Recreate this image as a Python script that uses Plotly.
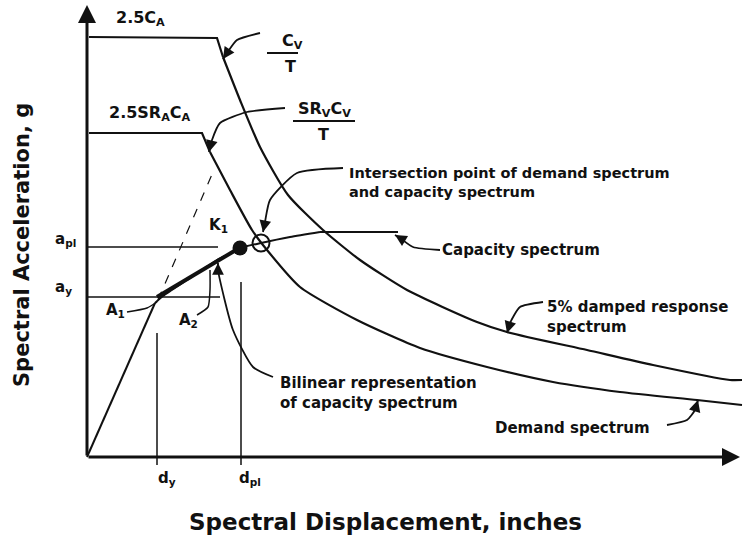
import plotly.graph_objects as go

# Diagram units: origin at the axes corner, 1 unit ~ 1 px of the figure
# 5% damped elastic response spectrum (Sa vs Sd)
resp_x = [2, 130, 136, 153, 173, 201, 236, 273, 320, 390, 420, 500, 566, 643, 655]
resp_y = [420, 419, 400, 357, 310, 262, 227, 197, 167, 135, 125, 107, 92, 77, 77]

# reduced demand spectrum
dem_x = [2, 115, 123, 143, 165, 180, 213, 270, 333, 400, 466, 533, 610, 655]
dem_y = [324, 324, 305, 267, 227, 207, 170, 137, 109, 90, 75, 65, 57, 52]

# capacity spectrum (pushover curve)
cap_x = [0, 68, 76, 100, 130, 146, 153, 174, 203, 233, 311]
cap_y = [0, 154, 161, 177, 197, 205, 209, 214, 220, 225, 225]

# bilinear representation points
d_y, a_y = 70, 160
d_pl, a_pl = 154, 210
k1_x = [71, 126]
k1_y = [157, 285]

# performance point (intersection)
pp_x, pp_y = 174, 214

font = "DejaVu Sans, Liberation Sans, sans-serif"
ink = "#111111"

fig = go.Figure()


def line(x, y, width=2, dash=None, shape="linear"):
    fig.add_trace(go.Scatter(x=x, y=y, mode="lines", hoverinfo="skip",
                             line=dict(color=ink, width=width, dash=dash, shape=shape,
                                       smoothing=0.6)))


def head(tip, tail, width=1.8, size=1.3):
    fig.add_annotation(x=tip[0], y=tip[1], ax=tail[0], ay=tail[1],
                       xref="x", yref="y", axref="x", ayref="y", text="",
                       showarrow=True, arrowhead=2, arrowsize=size, arrowwidth=width,
                       arrowcolor=ink)


# reference lines
line([0, 133], [a_y, a_y], 1.5)
line([0, 131], [a_pl, a_pl], 1.5)
line([d_y, d_y], [124, -8], 1.5)
line([d_pl, d_pl], [175, -8], 1.5)
line(k1_x, k1_y, 1.2, dash="dash")

# spectra: straight plateau and knee, smooth descending branch
line(resp_x[:3], resp_y[:3], 2.2)
line(resp_x[2:], resp_y[2:], 2.2, shape="spline")
line(dem_x[:3], dem_y[:3], 2.2)
line(dem_x[2:], dem_y[2:], 2.2, shape="spline")
line(cap_x[:2], cap_y[:2], 2)
line(cap_x[1:10], cap_y[1:10], 2, shape="spline")
line(cap_x[9:], cap_y[9:], 2)
line([d_y, d_pl], [a_y, a_pl], 4)

# points
fig.add_trace(go.Scatter(x=[d_pl - 1], y=[a_pl - 1], mode="markers", hoverinfo="skip",
                         marker=dict(size=15, color=ink)))
fig.add_trace(go.Scatter(x=[pp_x], y=[pp_y], mode="markers", hoverinfo="skip",
                         marker=dict(size=17, color="rgba(0,0,0,0)",
                                     line=dict(color=ink, width=2))))

# fraction bars
line([180, 211], [404, 404], 2)
line([206, 268], [336, 336], 2)

# curved leader arrows: shaft points, arrow tip
leaders = [
    ([173, 150, 140], [424, 417, 404], (136, 398)),
    ([198, 160, 133, 125], [349, 345, 334, 317], (122, 305)),
    ([256, 210, 183, 178], [289, 284, 257, 235], (176, 225)),
    ([353, 326, 313], [207, 210, 219], (308, 222)),
    ([456, 433, 423], [155, 150, 134], (420, 124)),
    ([580, 600, 608], [32, 37, 47], (611, 57)),
    ([186, 166, 146, 131], [80, 90, 127, 187], (131, 194)),
]
for xs, ys, tip in leaders:
    line(xs + [tip[0]], ys + [tip[1]], 1.8, shape="spline")
    head(tip, (xs[-1], ys[-1]))

# A1 / A2 leaders (no heads)
line([40, 60, 70], [145, 149, 155], 1.5, shape="spline")
line([110, 121, 123, 123], [142, 150, 167, 187], 1.5, shape="spline")

# axes with arrows
head((0, 452), (0, 0), width=3, size=1.2)
head((653, 0), (0, 0), width=3, size=1.2)

labels = [
    (53, 439, "2.5C<sub>A</sub>", "center", 16),
    (205, 416, "C<sub>V</sub>", "center", 16),
    (203, 391, "T", "center", 16),
    (63, 344, "2.5SR<sub>A</sub>C<sub>A</sub>", "center", 16),
    (237, 348, "SR<sub>V</sub>C<sub>V</sub>", "center", 16),
    (236, 323, "T", "center", 16),
    (131, 232, "K<sub>1</sub>", "center", 15),
    (-22, 218, "a<sub>pl</sub>", "center", 15),
    (-24, 170, "a<sub>y</sub>", "center", 15),
    (28, 147, "A<sub>1</sub>", "center", 15),
    (101, 137, "A<sub>2</sub>", "center", 15),
    (260, 275, "Intersection point of demand spectrum<br>and capacity spectrum", "left", 14.5),
    (353, 207, "Capacity spectrum", "left", 15),
    (458, 140, "5% damped response<br>spectrum", "left", 15),
    (191, 64, "Bilinear representation<br>of capacity spectrum", "left", 15),
    (406, 29, "Demand spectrum", "left", 15),
    (80, -21, "d<sub>y</sub>", "center", 15),
    (163, -21, "d<sub>pl</sub>", "center", 15),
]
for x, y, t, anchor, size in labels:
    fig.add_annotation(x=x, y=y, text="<b>" + t + "</b>", showarrow=False,
                       xanchor=anchor, align=anchor, xref="x", yref="y",
                       font=dict(family=font, size=size, color=ink))

fig.add_annotation(x=298, y=-65, text="<b>Spectral Displacement, inches</b>",
                   showarrow=False, xref="x", yref="y",
                   font=dict(family=font, size=23, color=ink))
fig.add_annotation(x=-65, y=212, text="<b>Spectral Acceleration, g</b>", textangle=-90,
                   showarrow=False, xref="x", yref="y",
                   font=dict(family=font, size=21, color=ink))

fig.update_layout(
    width=751, height=540,
    margin=dict(l=0, r=0, t=0, b=0),
    paper_bgcolor="white", plot_bgcolor="white",
    showlegend=False,
    xaxis=dict(range=[-87, 664], visible=False, fixedrange=True),
    yaxis=dict(range=[-83, 457], visible=False, fixedrange=True),
)

fig.write_html("out.html", config={"displayModeBar": False},
               post_script="document.body.style.margin='0';")
